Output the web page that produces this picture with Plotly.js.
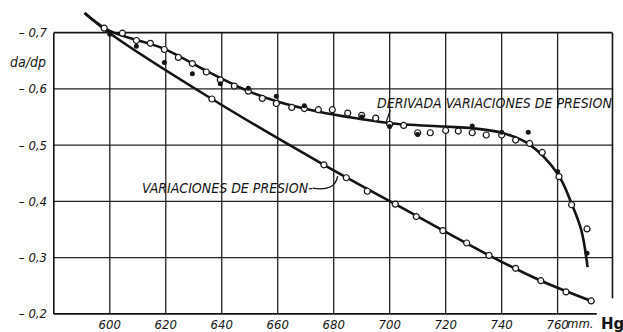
<!DOCTYPE html>
<html>
<head>
<meta charset="utf-8">
<script src="https://cdn.plot.ly/plotly-3.0.1.min.js"></script>
<style>html,body{margin:0;padding:0;background:#fff;}#chart{width:623px;height:332px;}</style>
</head>
<body>
<div id="chart"></div>
<script>
// ---- data ----
// derivative curve: open circles
const derivOpenX = [598, 604.5, 609.5, 614.5, 619.5, 624.5, 629.5, 634.5, 639.5, 644.5, 649.5, 654.5, 659.5, 665, 669.5, 674.5, 679.5, 685, 690, 695, 700, 705, 710, 714.5, 720, 724.5, 729.5, 734.5, 740, 745, 750, 754.5, 760.5, 765, 770.5];
const derivOpenY = [-0.708, -0.699, -0.686, -0.681, -0.670, -0.656, -0.645, -0.630, -0.616, -0.605, -0.596, -0.583, -0.574, -0.567, -0.565, -0.563, -0.563, -0.557, -0.553, -0.548, -0.537, -0.535, -0.522, -0.522, -0.526, -0.525, -0.522, -0.518, -0.518, -0.509, -0.503, -0.487, -0.444, -0.394, -0.351];
// derivative curve: filled dots
const derivFilledX = [600, 609.5, 619.5, 629.5, 639.5, 649.5, 659.5, 669.5, 690, 700, 710, 729.5, 740, 749.5, 760, 770.5];
const derivFilledY = [-0.697, -0.676, -0.647, -0.627, -0.609, -0.601, -0.587, -0.570, -0.550, -0.533, -0.519, -0.534, -0.523, -0.523, -0.453, -0.308];
// derivative fitted curve
const derivCurveX = [591, 600, 619, 634.5, 649.5, 659.5, 675, 689, 700, 719.5, 729.5, 740, 750, 760, 765, 768.5, 770.7];
const derivCurveY = [-0.735, -0.703, -0.672, -0.632, -0.596, -0.578, -0.559, -0.547, -0.539, -0.533, -0.530, -0.522, -0.501, -0.449, -0.396, -0.348, -0.283];
// pressure variations: open circles
const presOpenX = [636.5, 676.5, 684.5, 692, 702, 709.5, 719, 727.5, 735.5, 745, 754, 763, 772];
const presOpenY = [-0.582, -0.465, -0.442, -0.418, -0.395, -0.373, -0.348, -0.326, -0.304, -0.281, -0.259, -0.239, -0.223];
// pressure variations fitted line
const presCurveX = [591, 600, 636.5, 676.5, 702, 735.5, 754, 772];
const presCurveY = [-0.735, -0.699, -0.582, -0.465, -0.395, -0.304, -0.259, -0.223];
// axes
const xTickVals = [600, 620, 640, 660, 680, 700, 720, 740, 760];
const xTickText = ['600', '620', '640', '660', '680', '700', '720', '740', '760'];
const yTickVals = [-0.7, -0.6, -0.5, -0.4, -0.3, -0.2];
const yTickText = ['– 0,7', '– 0,6', '– 0,5', '– 0,4', '– 0,3', '– 0,2'];
const xFrame = [580, 779.6];
const yFrame = [-0.7, -0.2];

// ---- drawing ----
const ink = '#141414';
const hand = 'Liberation Sans Narrow, DejaVu Sans Condensed, Arial Narrow, sans-serif';

const traces = [
  {x: derivCurveX, y: derivCurveY, mode: 'lines', line: {color: ink, width: 2.6, shape: 'spline', smoothing: 1}, hoverinfo: 'skip'},
  {x: presCurveX, y: presCurveY, mode: 'lines', line: {color: ink, width: 2.6, shape: 'spline', smoothing: 0.8}, hoverinfo: 'skip'},
  {x: derivOpenX, y: derivOpenY, mode: 'markers', marker: {symbol: 'circle', size: 6, color: '#fff', line: {color: ink, width: 1.2}}},
  {x: presOpenX, y: presOpenY, mode: 'markers', marker: {symbol: 'circle', size: 6, color: '#fff', line: {color: ink, width: 1.2}}},
  {x: derivFilledX, y: derivFilledY, mode: 'markers', marker: {symbol: 'circle', size: 5, color: ink}}
];

const shapes = [];
const gl = {color: '#222', width: 1.3};
xTickVals.forEach(v => shapes.push({type: 'line', xref: 'x', yref: 'y', x0: v, x1: v, y0: yFrame[0], y1: yFrame[1], line: gl, layer: 'below'}));
yTickVals.slice(1, -1).forEach(v => shapes.push({type: 'line', xref: 'x', yref: 'y', x0: xFrame[0], x1: xFrame[1], y0: v, y1: v, line: gl, layer: 'below'}));
// frame
const fl = {color: ink, width: 1.6};
shapes.push({type: 'line', xref: 'x', yref: 'y', x0: xFrame[0], x1: xFrame[0], y0: yFrame[0], y1: yFrame[1], line: fl, layer: 'below'});
shapes.push({type: 'line', xref: 'x', yref: 'y', x0: xFrame[0], x1: xFrame[1], y0: yFrame[0], y1: yFrame[0], line: fl, layer: 'below'});
shapes.push({type: 'line', xref: 'x', yref: 'y', x0: xFrame[1], x1: xFrame[1], y0: yFrame[0], y1: -0.228, line: fl, layer: 'below'});
shapes.push({type: 'line', xref: 'x', yref: 'y', x0: xFrame[0], x1: 774, y0: yFrame[1], y1: yFrame[1], line: fl, layer: 'below'});
// leaders
shapes.push({type: 'line', xref: 'x', yref: 'y', x0: 698.6, y0: -0.539, x1: 700.2, y1: -0.562, line: {color: ink, width: 1.2}});
shapes.push({type: 'path', xref: 'x', yref: 'y', path: 'M 672.5,-0.4235 Q 680.5,-0.417 681.4,-0.445', line: {color: ink, width: 1.3}});

const lab = {family: hand, size: 14, color: ink, style: 'italic'};
const annotations = [
  {x: 737.3, y: -0.575, xref: 'x', yref: 'y', text: 'DERIVADA VARIACIONES DE PRESION', showarrow: false, font: lab, xanchor: 'center', yanchor: 'middle'},
  {x: 642.1, y: -0.4245, xref: 'x', yref: 'y', text: 'VARIACIONES DE PRESION-', showarrow: false, font: lab, xanchor: 'center', yanchor: 'middle'},
  {x: -0.04, y: -0.647, xref: 'paper', yref: 'y', text: 'da/dp', showarrow: false, font: {family: hand, size: 14, color: ink, style: 'italic'}, xanchor: 'center', yanchor: 'middle'},
  {x: 768.2, y: -0.028, xref: 'x', yref: 'paper', text: 'mm.', showarrow: false, font: {family: hand, size: 13, color: ink, style: 'italic'}, xanchor: 'center', yanchor: 'middle'},
  {x: 779.5, y: -0.03, xref: 'x', yref: 'paper', text: 'Hg', showarrow: false, font: {family: 'DejaVu Sans, sans-serif', size: 15, color: ink, weight: 'bold'}, xanchor: 'center', yanchor: 'middle'}
];

const layout = {
  width: 623, height: 332,
  margin: {l: 51.2, r: 7.6, t: 9.4, b: 16.9},
  paper_bgcolor: '#fff', plot_bgcolor: '#fff',
  showlegend: false,
  xaxis: {range: [579, 780.5], tickvals: xTickVals, ticktext: xTickText, showgrid: false, zeroline: false, showline: false, ticks: '', ticklabelstandoff: 0,
          tickfont: {family: hand, size: 13, color: ink, style: 'italic'}},
  yaxis: {range: [-0.198, -0.742], tickvals: yTickVals, ticktext: yTickText, showgrid: false, zeroline: false, showline: false, ticks: '', ticklabelstandoff: 3,
          tickfont: {family: hand, size: 13, color: ink, style: 'italic'}},
  shapes: shapes,
  annotations: annotations
};

Plotly.newPlot('chart', traces, layout, {displayModeBar: false, staticPlot: true});
</script>
</body>
</html>
